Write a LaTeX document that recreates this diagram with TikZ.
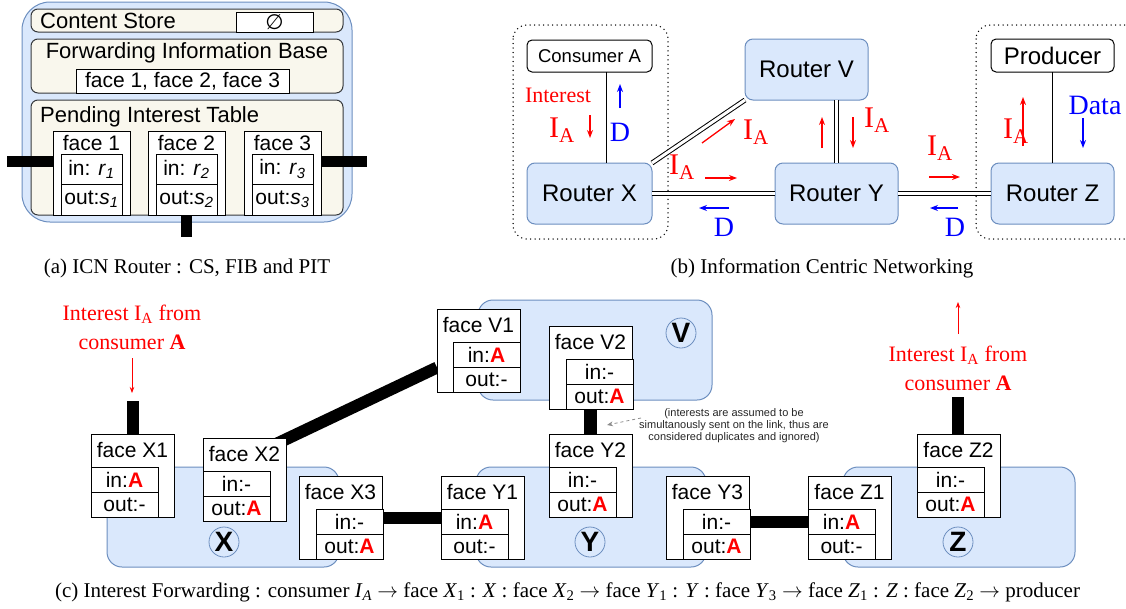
\documentclass[tikz,border=0pt]{standalone}
\usepackage{fontspec}
\setmainfont{Liberation Serif}
\setsansfont{Liberation Sans}
\newfontfamily\dejavu{DejaVu Sans}
\usetikzlibrary{arrows.meta}
\pgfdeclarelayer{bg}
\pgfdeclarelayer{mid}
\pgfsetlayers{bg,mid,main}
\definecolor{bfill}{HTML}{DAE8FC}
\definecolor{bdraw}{HTML}{6C8EBF}
\definecolor{beige}{HTML}{F9F7ED}
\definecolor{bgdraw}{HTML}{36393D}
\definecolor{ired}{HTML}{FF0000}
\definecolor{dblue}{HTML}{0000FF}
\newcommand\redA{\textcolor{ired}{\textbf{A}}}
\newcommand\mkbox[7][]{\node[anchor=north west, inner sep=0pt, outer sep=0pt,
  minimum width={((#4)-(#2))*1pt}, minimum height={((#5)-(#3))*1pt}, #1] (#6) at (#2,#3) {#7};}
\newcommand\facec[7]{%
  \mkbox[facebox]{#2}{#3}{#2+83}{#3+83}{#1}{}
  \node[lbl21] (#1-l) at (#2+41.5,#3+16) {#5};
  \mkbox[facebox]{#4}{#3+33}{#4+67}{#3+58}{#1-in}{#6}
  \mkbox[facebox]{#4}{#3+58}{#4+67}{#3+83}{#1-out}{#7}}
\newcommand\facea[5]{%
  \mkbox[facebox]{#2}{131}{#2+77}{215}{#1}{}
  \node[lbl21] (#1-l) at (#2+38.5,143) {#3};
  \mkbox[facebox]{#2+8}{154}{#2+69}{184}{#1-in}{#4}
  \mkbox[facebox]{#2+8}{184}{#2+69}{215}{#1-out}{#5}}
\begin{document}
\begin{tikzpicture}[x=1pt,y=-1pt,
  lbl22/.style={font=\sffamily\fontsize{22}{26}\selectfont, inner sep=0pt},
  lbl21/.style={font=\sffamily\fontsize{21}{25}\selectfont, inner sep=0pt},
  rtr/.style={draw=bdraw, fill=bfill, rounded corners=8pt, line width=1pt, font=\sffamily\fontsize{24}{28}\selectfont},
  termbox/.style={draw=black, fill=white, rounded corners=5pt, line width=1pt},
  whitebox/.style={draw=black, fill=white, line width=1pt, font=\sffamily\fontsize{21}{25}\selectfont},
  beigebox/.style={draw=bgdraw, fill=beige, rounded corners=7pt, line width=1pt},
  outerbox/.style={draw=bdraw, fill=bfill, rounded corners=28pt, line width=1pt},
  facebox/.style={draw=black, fill=white, line width=1pt, font=\sffamily\fontsize{21}{25}\selectfont},
  region/.style={draw=bdraw, fill=bfill, rounded corners=15pt, line width=1pt},
  circ/.style={circle, draw=bdraw, fill=bfill, minimum size=30pt, inner sep=0pt, line width=0.8pt, font=\sffamily\bfseries\fontsize{28}{30}\selectfont},
  bar/.style={line width=12pt},
  bara/.style={line width=11pt},
  dbl/.style={double, double distance=3pt, line width=1pt},
  dotbox/.style={dash pattern=on 0pt off 4.5pt, line cap=round, line width=1.5pt, rounded corners=14pt},
  redarr/.style={draw=ired, line width=1.3pt, -{Stealth[length=8pt,width=6pt]}},
  bluearr/.style={draw=dblue, line width=1.3pt, -{Stealth[length=8pt,width=6pt]}},
  thinred/.style={draw=ired, line width=0.8pt, -{Stealth[length=6pt,width=4.5pt]}},
  rtxt/.style={text=ired, font=\rmfamily\fontsize{22}{29}\selectfont, inner sep=0pt, align=center},
  ia/.style={text=ired, font=\rmfamily\fontsize{30}{32}\selectfont, inner sep=0pt},
  dtxt/.style={text=dblue, font=\rmfamily\fontsize{28}{30}\selectfont, inner sep=0pt},
  note/.style={text=black!85, font=\sffamily\fontsize{11}{12}\selectfont, inner sep=0pt, align=center},
  captxt/.style={font=\rmfamily\fontsize{21}{25}\selectfont, inner sep=0pt}
]
\useasboundingbox (0,0) rectangle (1126,608);

% ---------------- (a) ICN router ----------------
\begin{pgfonlayer}{bg}
\mkbox[outerbox]{22}{2}{352}{222}{router}{}
\end{pgfonlayer}
\begin{pgfonlayer}{mid}
\mkbox[beigebox]{31}{9}{343}{32}{cs}{}
\mkbox[beigebox]{31}{39}{343}{93}{fib}{}
\mkbox[beigebox]{31}{100}{343}{215}{pit}{}
\end{pgfonlayer}
\node[lbl22, anchor=west] (cslbl) at (40,21) {Content Store};
\mkbox[whitebox]{236}{12}{313}{32}{csval}{\dejavu\fontsize{21}{24}\selectfont ∅}
\node[lbl22] (fiblbl) at (187,53) {Forwarding Information Base};
\mkbox[whitebox]{76}{69}{289}{93}{fibval}{face 1, face 2, face 3}
\node[lbl22, anchor=west] (pitlbl) at (40,117) {Pending Interest Table};
\facea{fa1}{53}{face 1}{in: \textit{r}\textsubscript{\textit{1}}}{out:\textit{s}\textsubscript{\textit{1}}}
\facea{fa2}{148}{face 2}{in: \textit{r}\textsubscript{\textit{2}}}{out:\textit{s}\textsubscript{\textit{2}}}
\facea{fa3}{244}{face 3}{in: \textit{r}\textsubscript{\textit{3}}}{out:\textit{s}\textsubscript{\textit{3}}}
\coordinate (aL) at (7,161);
\coordinate (aR) at (367,161);
\coordinate (aB) at (186,237);
\draw[bara] (aL) -- (aL -| fa1.west);
\draw[bara] (fa3.east |- aR) -- (aR);
\draw[bara] (fa2.south -| aB) -- (aB);
\node[captxt] (capa) at (187,268) {(a) ICN Router : CS, FIB and PIT};

% ---------------- (b) ICN ----------------
\begin{pgfonlayer}{bg}
\draw[dotbox] (513,25) rectangle (668,239);
\draw[dotbox] (976,25) rectangle (1145,239);
\end{pgfonlayer}
\mkbox[rtr]{527}{163}{652}{224}{rX}{Router X}
\mkbox[rtr]{745}{39}{868}{100}{rV}{Router V}
\mkbox[rtr]{775}{163}{898}{224}{rY}{Router Y}
\mkbox[rtr]{991}{163}{1114}{224}{rZ}{Router Z}
\mkbox[termbox, font=\sffamily\fontsize{18.5}{22}\selectfont]{527}{40}{652}{72}{cA}{Consumer A}
\mkbox[termbox, font=\sffamily\fontsize{24}{28}\selectfont]{991}{39}{1114}{72}{pr}{Producer}
\draw[dbl] (rX.east) -- (rY.west);
\draw[dbl] (rY.east) -- (rZ.west);
\draw[dbl] (rY.north) -- (rY.north |- rV.south);
\draw[dbl] (rX.north east) -- (rV.south west);
\coordinate (ca) at (606,0);
\draw[line width=1pt] (cA.south -| ca) -- (rX.north -| ca);
\draw[line width=1pt] (pr.south) -- (rZ.north);
% labels and arrows
\node[rtxt] (bint) at (558,95) {Interest};
\node[ia] (bia1) at (562,130) {I\textsubscript{A}};
\coordinate (b1s) at (590,115); \coordinate (b1e) at (590,138);
\draw[redarr] (b1s) -- (b1e);
\coordinate (b2s) at (620,108); \coordinate (b2e) at (620,84);
\draw[bluearr] (b2s) -- (b2e);
\node[dtxt] (bd1) at (620,132) {D};
\coordinate (b3s) at (702,143); \coordinate (b3e) at (735,119);
\draw[redarr] (b3s) -- (b3e);
\node[ia] (bia2) at (756,132) {I\textsubscript{A}};
\node[ia] (bia3) at (682,167) {I\textsubscript{A}};
\coordinate (b4s) at (705,178); \coordinate (b4e) at (737,178);
\draw[redarr] (b4s) -- (b4e);
\coordinate (b5s) at (729,208); \coordinate (b5e) at (699,208);
\draw[bluearr] (b5s) -- (b5e);
\node[dtxt] (bd2) at (724,227) {D};
\coordinate (b6s) at (822,148); \coordinate (b6e) at (822,117);
\draw[redarr] (b6s) -- (b6e);
\coordinate (b7s) at (853,117); \coordinate (b7e) at (853,148);
\draw[redarr] (b7s) -- (b7e);
\node[ia] (bia4) at (877,120) {I\textsubscript{A}};
\node[ia] (bia5) at (940,148) {I\textsubscript{A}};
\coordinate (b8s) at (929,177); \coordinate (b8e) at (960,177);
\draw[redarr] (b8s) -- (b8e);
\coordinate (b9s) at (958,208); \coordinate (b9e) at (930,208);
\draw[bluearr] (b9s) -- (b9e);
\node[dtxt] (bd3) at (955,227) {D};
\node[ia] (bia6) at (1016,131) {I\textsubscript{A}};
\coordinate (b10s) at (1023,146); \coordinate (b10e) at (1023,97);
\draw[redarr] (b10s) -- (b10e);
\node[dtxt] (bdata) at (1095,105) {Data};
\coordinate (b11s) at (1083,118); \coordinate (b11e) at (1083,148);
\draw[bluearr] (b11s) -- (b11e);
\node[captxt] (capb) at (822,268) {(b) Information Centric Networking};

% ---------------- (c) Interest forwarding ----------------
\begin{pgfonlayer}{bg}
\mkbox[region]{107}{467}{339}{567}{regX}{}
\mkbox[region]{476}{467}{706}{567}{regY}{}
\mkbox[region]{843}{467}{1075}{567}{regZ}{}
\mkbox[region]{478}{300}{712}{400}{regV}{}
\end{pgfonlayer}
\facec{fX1}{91}{434}{91}{face X1}{in:\redA}{out:-}
\facec{fX2}{203}{438}{203}{face X2}{in:-}{out:\redA}
\facec{fX3}{299}{476}{316}{face X3}{in:-}{out:\redA}
\facec{fY1}{441}{476}{441}{face Y1}{in:\redA}{out:-}
\facec{fV1}{437}{309}{453}{face V1}{in:\redA}{out:-}
\facec{fV2}{549}{326}{566}{face V2}{in:-}{out:\redA}
\facec{fY2}{549}{434}{549}{face Y2}{in:-}{out:\redA}
\facec{fY3}{666}{476}{683}{face Y3}{in:-}{out:\redA}
\facec{fZ1}{808}{476}{808}{face Z1}{in:\redA}{out:-}
\facec{fZ2}{917}{434}{917}{face Z2}{in:-}{out:\redA}
\node[circ] (cX) at (224,542) {X};
\node[circ] (cY) at (590,542) {Y};
\node[circ] (cZ) at (958,542) {Z};
\node[circ] (cV) at (681,333) {V};
\begin{pgfonlayer}{mid}
\draw[bar] ([xshift=-10pt,yshift=-6pt]fX2.north east) -- ([yshift=-17pt]fV1.west);
\end{pgfonlayer}
\coordinate (x1top) at (133,401);
\draw[bar] (x1top) -- (x1top |- fX1.north);
\draw[bar] ([yshift=4pt]fX3-in.east) -- ([yshift=4pt]fY1-in.west);
\draw[bar] (fY3-in.east) -- (fZ1-in.west);
\coordinate (vy) at (590,0);
\draw[line width=13pt] (fV2.south -| vy) -- (fY2.north -| vy);
\coordinate (z2top) at (958,397);
\draw[bar] (z2top) -- (z2top |- fZ2.north);
\node[rtxt] (cint1) at (132,327) {Interest I\textsubscript{A} from\\consumer \textbf{A}};
\coordinate (c1s) at (132,358); \coordinate (c1e) at (132,393);
\draw[thinred] (c1s) -- (c1e);
\node[rtxt] (cint2) at (958,368) {Interest I\textsubscript{A} from\\consumer \textbf{A}};
\coordinate (c2s) at (958,334); \coordinate (c2e) at (958,302);
\draw[thinred] (c2s) -- (c2e);
\node[note] (cnote) at (734,426) {(interests are assumed to be\\simultanously sent on the link, thus are\\considered duplicates and ignored)};
\coordinate (n1s) at (641,418); \coordinate (n1e) at (607,425);
\draw[draw=black!45, line width=0.8pt, dashed, -{Stealth[length=6pt,width=5pt]}] (n1s) -- (n1e);
\node[captxt] (capc) at (567.5,592) {(c) Interest Forwarding : consumer \textit{I}\textsubscript{\textit{A}} $\rightarrow$ face \textit{X}\textsubscript{1} : \textit{X} : face \textit{X}\textsubscript{2} $\rightarrow$ face \textit{Y}\textsubscript{1} : \textit{Y} : face \textit{Y}\textsubscript{3} $\rightarrow$ face \textit{Z}\textsubscript{1} : \textit{Z} : face \textit{Z}\textsubscript{2} $\rightarrow$ producer};
\end{tikzpicture}
\end{document}
